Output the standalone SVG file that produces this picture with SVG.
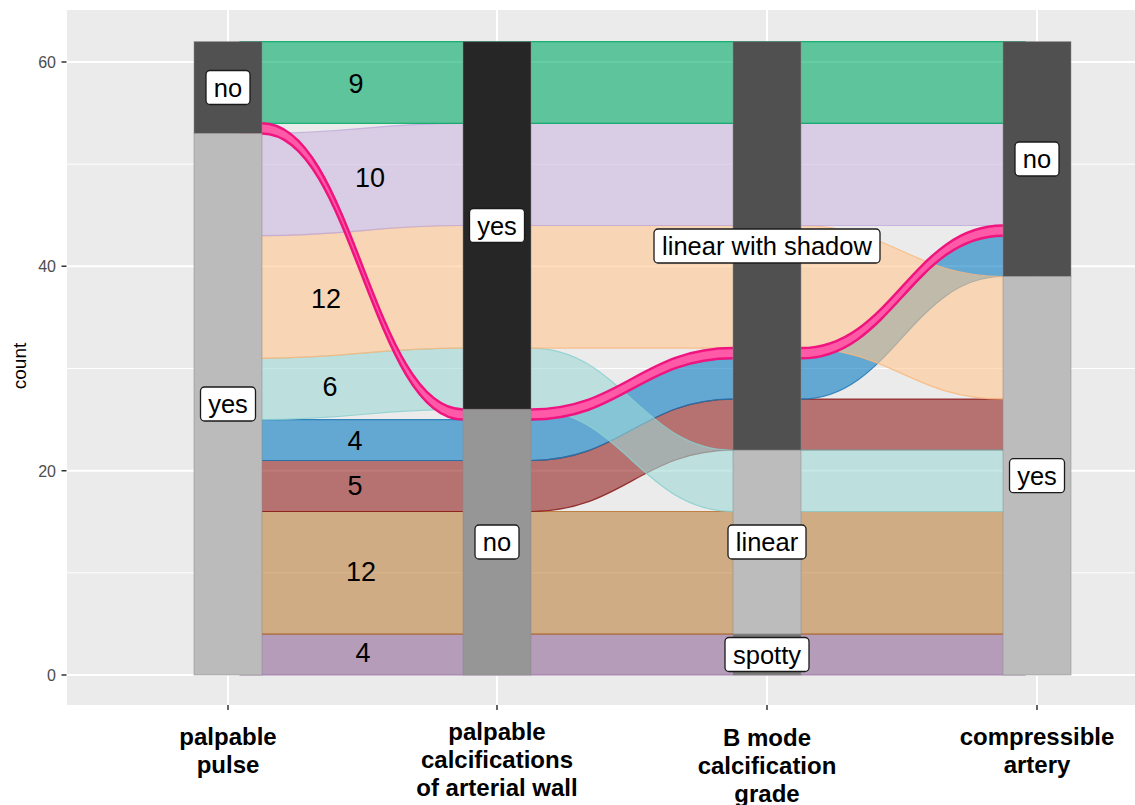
<svg xmlns="http://www.w3.org/2000/svg" width="1135" height="805" viewBox="0 0 1135 805">
<style>
.grid-major{stroke:#FFFFFF;stroke-width:2;fill:none}
.grid-minor{stroke:#FFFFFF;stroke-width:1;fill:none}
.tick{stroke:#333333;stroke-width:1.5}
.ytxt{font-family:"Liberation Sans",Arial,sans-serif;font-size:16px;fill:#4D4D4D;text-anchor:end}
.xtxt{font-family:"Liberation Sans",Arial,sans-serif;font-size:24px;font-weight:bold;fill:#000;text-anchor:middle}
.ttl{font-family:"Liberation Sans",Arial,sans-serif;font-size:19px;fill:#000;text-anchor:middle}
.flow{fill-opacity:0.6;stroke-opacity:0.85;stroke-width:1.2}
.bar{stroke:#8a8a8a;stroke-opacity:0.5;stroke-width:1}
.lbox{fill:#FFFFFF;stroke:#1A1A1A;stroke-width:1.3}
.ltxt{font-family:"Liberation Sans",Arial,sans-serif;font-size:25.5px;fill:#000;text-anchor:middle}
.ctxt{font-family:"Liberation Sans",Arial,sans-serif;font-size:27px;fill:#000;text-anchor:middle}
</style>
<rect x="0" y="0" width="1135" height="805" fill="#FFFFFF"/>
<g id="panel">
<rect x="67" y="10" width="1068" height="695" fill="#EBEBEB"/>
<path class="grid-minor" d="M67,572.8H1135M67,368.5H1135M67,164.2H1135"/>
<path class="grid-major" d="M67,675H1135M67,470.7H1135M67,266.3H1135M67,62H1135"/>
<path class="grid-major" d="M228,10V705M497,10V705M767,10V705M1037,10V705"/>
</g>
<g id="axes">
<path class="tick" d="M61.5,675H66.5M61.5,470.7H66.5M61.5,266.3H66.5M61.5,62H66.5"/>
<path class="tick" d="M228,705V710M497,705V710M767,705V710M1037,705V710"/>
<text class="ytxt" x="56" y="681">0</text>
<text class="ytxt" x="56" y="476.7">20</text>
<text class="ytxt" x="56" y="272.3">40</text>
<text class="ytxt" x="56" y="68">60</text>
<text class="ttl" transform="translate(26,366) rotate(-90)">count</text>
<text class="xtxt" x="228" y="745">palpable</text>
<text class="xtxt" x="228" y="773">pulse</text>
<text class="xtxt" x="497" y="740">palpable</text>
<text class="xtxt" x="497" y="768">calcifications</text>
<text class="xtxt" x="497" y="796">of arterial wall</text>
<text class="xtxt" x="767" y="746">B mode</text>
<text class="xtxt" x="767" y="774">calcification</text>
<text class="xtxt" x="767" y="802">grade</text>
<text class="xtxt" x="1037" y="745">compressible</text>
<text class="xtxt" x="1037" y="773">artery</text>
</g>
<g id="connectors">
<path id="flow-mauve" class="flow" fill="#916999" stroke="#916999" d="M240,634.1H1025V675H240Z"/>
<path id="flow-tan" class="flow" fill="#BC823F" stroke="#B8742F" d="M240,511.5H1025V634.1H240Z"/>
<path id="flow-red" class="flow" fill="#912120" stroke="#8B1A1A" d="M240,460.5H531C621,460.5 643,399.1 733,399.1H1025V450.2H733C643,450.2 621,511.5 531,511.5H240Z"/>
<path id="flow-blue" class="flow" fill="#087AC3" stroke="#1F78B4" d="M240,419.6H531C621,419.6 643,358.3 733,358.3H801C891,358.3 913,235.7 1003,235.7H1025V276.5H1003C913,276.5 891,399.1 801,399.1H733C643,399.1 621,460.5 531,460.5H240Z"/>
<path id="flow-teal" class="flow" fill="#9ED9D7" stroke="#8CD0CF" d="M240,358.3H262C352,358.3 373,348.1 463,348.1H531C621,348.1 643,450.2 733,450.2H1025V511.5H733C643,511.5 621,409.4 531,409.4H463C373,409.4 352,419.6 262,419.6H240Z"/>
<path id="flow-orange" class="flow" fill="#FFC691" stroke="#F9B97F" d="M240,235.7H262C352,235.7 373,225.5 463,225.5H801C891,225.5 913,276.5 1003,276.5H1025V399.1H1003C913,399.1 891,348.1 801,348.1H463C373,348.1 352,358.3 262,358.3H240Z"/>
<path id="flow-lavender" class="flow" fill="#CBB9DF" stroke="#C2ABDA" d="M240,133.5H262C352,133.5 373,123.3 463,123.3H1025V225.5H463C373,225.5 352,235.7 262,235.7H240Z"/>
<path id="flow-green" class="flow" fill="#00AA67" stroke="#00A862" d="M240,41.6H1025V123.3H240Z"/>
<path id="flow-pink" fill="#FF5AA8" stroke="#F0147F" stroke-width="2.5" d="M240,123.3H262C352,123.3 373,409.4 463,409.4H531C621,409.4 643,348.1 733,348.1H801C891,348.1 913,225.5 1003,225.5H1025V235.7H1003C913,235.7 891,358.3 801,358.3H733C643,358.3 621,419.6 531,419.6H463C373,419.6 352,133.5 262,133.5H240Z"/>
</g>
<g id="axis-palpable-pulse">
<rect class="bar" x="194" y="41.6" width="68" height="91.9" fill="#515151"/>
<rect class="bar" x="194" y="133.5" width="68" height="541.5" fill="#BBBBBB"/>
</g>
<g id="axis-palpable-calcifications">
<rect class="bar" x="463" y="41.6" width="68" height="367.8" fill="#262626"/>
<rect class="bar" x="463" y="409.4" width="68" height="265.6" fill="#969696"/>
</g>
<g id="axis-bmode">
<rect class="bar" x="733" y="41.6" width="68" height="408.6" fill="#505050"/>
<rect class="bar" x="733" y="450.2" width="68" height="183.9" fill="#BCBCBC"/>
<rect class="bar" x="733" y="634.1" width="68" height="40.9" fill="#777777"/>
</g>
<g id="axis-compressible">
<rect class="bar" x="1003" y="41.6" width="68" height="234.9" fill="#505050"/>
<rect class="bar" x="1003" y="276.5" width="68" height="398.5" fill="#BCBCBC"/>
</g>
<g id="node-pulse-no"><rect class="lbox" x="206" y="70.5" width="44" height="34" rx="4"/><text class="ltxt" x="228" y="96.5">no</text></g>
<g id="node-pulse-yes"><rect class="lbox" x="200.5" y="387" width="55" height="34" rx="4"/><text class="ltxt" x="228" y="413">yes</text></g>
<g id="node-calc-yes"><rect class="lbox" x="469.5" y="208.5" width="55" height="34" rx="4"/><text class="ltxt" x="497" y="234.5">yes</text></g>
<g id="node-calc-no"><rect class="lbox" x="475" y="525" width="44" height="34" rx="4"/><text class="ltxt" x="497" y="551">no</text></g>
<g id="node-bmode-lws"><rect class="lbox" x="654" y="229" width="226" height="34" rx="4"/><text class="ltxt" x="767" y="255">linear with shadow</text></g>
<g id="node-bmode-linear"><rect class="lbox" x="728" y="525" width="78" height="34" rx="4"/><text class="ltxt" x="767" y="551">linear</text></g>
<g id="node-bmode-spotty"><rect class="lbox" x="725" y="637.5" width="84" height="34" rx="4"/><text class="ltxt" x="767" y="663.5">spotty</text></g>
<g id="node-comp-no"><rect class="lbox" x="1015" y="142" width="44" height="34" rx="4"/><text class="ltxt" x="1037" y="168">no</text></g>
<g id="node-comp-yes"><rect class="lbox" x="1009.5" y="458.7" width="55" height="34" rx="4"/><text class="ltxt" x="1037" y="484.7">yes</text></g>
<g id="counts">
<text class="ctxt" x="356" y="93">9</text>
<text class="ctxt" x="370" y="187">10</text>
<text class="ctxt" x="326" y="308">12</text>
<text class="ctxt" x="330" y="396">6</text>
<text class="ctxt" x="355" y="450">4</text>
<text class="ctxt" x="355" y="495">5</text>
<text class="ctxt" x="361" y="581">12</text>
<text class="ctxt" x="363" y="662">4</text>
</g>
</svg>
